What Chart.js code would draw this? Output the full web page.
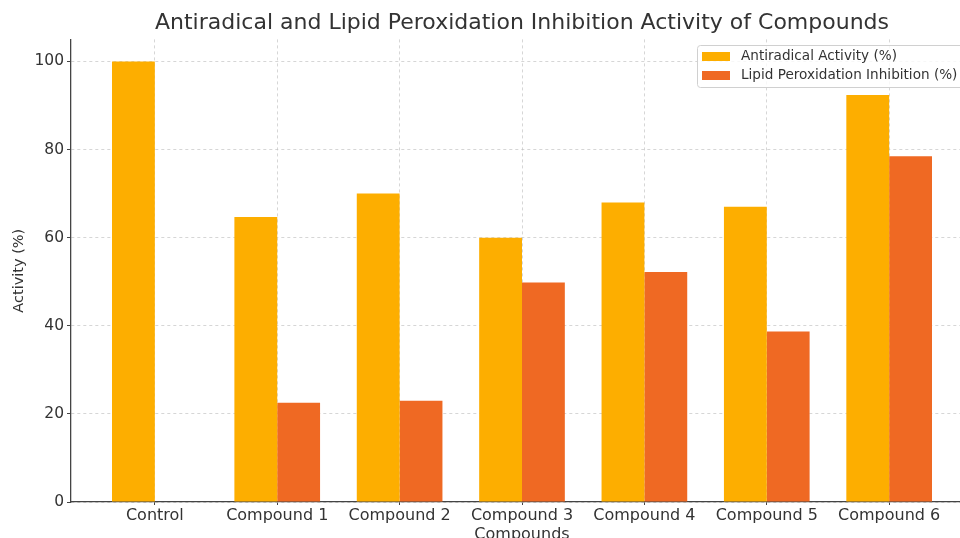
<!DOCTYPE html>
<html><head><meta charset="utf-8">
<script src="https://cdn.jsdelivr.net/npm/chart.js@4.4.1/dist/chart.umd.min.js"></script>
<style>html,body{margin:0;padding:0;overflow:hidden;background:#fff;width:960px;height:538px}canvas{display:block}</style>
</head><body><canvas id="c" width="985" height="546"></canvas>
<script>
const categories = ['Control', 'Compound 1', 'Compound 2', 'Compound 3', 'Compound 4', 'Compound 5', 'Compound 6'];
const antiradical = [100, 64.7, 70.0, 60.0, 68.0, 67.0, 92.4];
const lipidInhibition = [0, 22.5, 23.0, 49.8, 52.2, 38.7, 78.5];
const yTicks = [0, 20, 40, 60, 80, 100];
const seriesNames = ['Antiradical Activity (%)', 'Lipid Peroxidation Inhibition (%)'];
const chartTitle = 'Antiradical and Lipid Peroxidation Inhibition Activity of Compounds';
const xTitle = 'Compounds';
const yTitle = 'Activity (%)';

const FONT = '"DejaVu Sans", sans-serif';

const boxLegend = {
  id: 'boxLegend',
  afterDraw(chart) {
    const ctx = chart.ctx;
    ctx.save();
    ctx.beginPath();
    ctx.roundRect(697.5, 45.5, 285, 42, 3);
    ctx.fillStyle = 'rgba(255,255,255,0.8)';
    ctx.fill();
    ctx.strokeStyle = '#d0d0d0';
    ctx.lineWidth = 1;
    ctx.stroke();
    chart.data.datasets.forEach((ds, i) => {
      const cy = 56.5 + i * 19;
      ctx.fillStyle = ds.backgroundColor;
      ctx.fillRect(702, cy - 4.5, 28, 9);
      ctx.fillStyle = '#333';
      ctx.font = '13.6px ' + FONT;
      ctx.textBaseline = 'middle';
      ctx.textAlign = 'left';
      ctx.fillText(ds.label, 741, cy);
    });
    ctx.restore();
  }
};

new Chart(document.getElementById('c'), {
  type: 'bar',
  data: {
    datasets: [
      { label: seriesNames[0], data: antiradical.map((v, i) => ({ x: i, y: v })), backgroundColor: '#FDAE00', borderWidth: 0, categoryPercentage: 0.7, barPercentage: 1.0 },
      { label: seriesNames[1], data: lipidInhibition.map((v, i) => ({ x: i, y: v })), backgroundColor: '#EF6923', borderWidth: 0, categoryPercentage: 0.7, barPercentage: 1.0 }
    ]
  },
  options: {
    responsive: false,
    animation: false,
    devicePixelRatio: 1,
    layout: { padding: { left: 0, right: 12, top: 0, bottom: 0 } },
    plugins: {
      legend: { display: false },
      tooltip: { enabled: false },
      title: {
        display: true, text: chartTitle, fullSize: false,
        color: '#333', font: { family: FONT, size: 22, weight: 'normal', lineHeight: 1.2 },
        padding: { top: 10, bottom: 3 }
      }
    },
    scales: {
      x: {
        type: 'linear', min: -0.685, max: 6.685, offset: false,
        afterBuildTicks: (s) => { s.ticks = categories.map((_, i) => ({ value: i })); },
        afterFit: (s) => { s.height = 44; },
        ticks: { autoSkip: false, maxRotation: 0, padding: 1, color: '#333', font: { family: FONT, size: 16 }, callback: (v, i) => categories[i] },
        grid: { offset: false, color: 'rgba(190,190,190,0.8)', lineWidth: 0.8, drawTicks: true, tickLength: 3, tickColor: '#444', tickWidth: 1 },
        border: { display: true, color: '#444', width: 1.3, dash: [3, 3] },
        title: { display: true, text: xTitle, color: '#333', font: { family: FONT, size: 16 }, padding: { top: 0, bottom: 2 } }
      },
      y: {
        type: 'linear', min: 0, max: 105,
        afterBuildTicks: (s) => { s.ticks = yTicks.map(v => ({ value: v })); },
        afterFit: (s) => { s.width = 71; },
        ticks: { includeBounds: false, padding: 3, color: '#333', font: { family: FONT, size: 15.5 } },
        grid: { color: 'rgba(190,190,190,0.8)', lineWidth: 0.8, drawTicks: true, tickLength: 4, tickColor: '#444', tickWidth: 1 },
        border: { display: true, color: '#444', width: 1.3, dash: [3, 3] },
        title: { display: true, text: yTitle, color: '#333', font: { family: FONT, size: 14.5 }, padding: { top: 11, bottom: 0 } }
      }
    }
  },
  plugins: [boxLegend]
});
</script>
</body></html>
